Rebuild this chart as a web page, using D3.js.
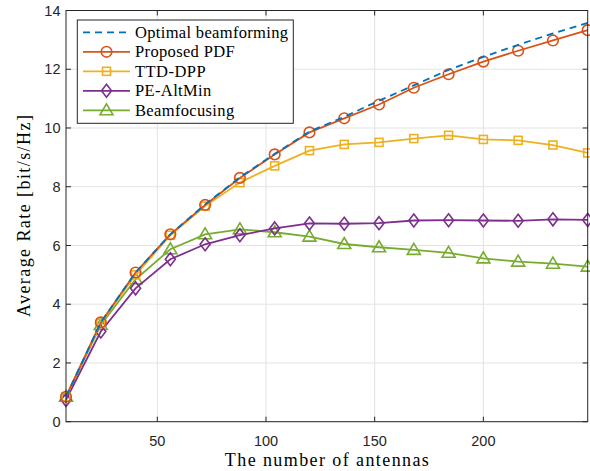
<!DOCTYPE html>
<html><head><meta charset="utf-8">
<script src="https://cdn.jsdelivr.net/npm/d3@7"></script>
<style>body{margin:0;background:#fff;} svg{display:block;}</style>
</head><body>
<svg id="chart" width="590" height="471"></svg>
<script>
const antennas = [8,24,40,56,72,88,104,120,136,152,168,184,200,216,232,248];
const optimal  = [0.85,3.38,5.08,6.38,7.40,8.32,9.12,9.88,10.38,10.93,11.45,11.98,12.42,12.83,13.22,13.58];
const proposed = [0.85,3.38,5.08,6.38,7.38,8.30,9.10,9.85,10.33,10.80,11.37,11.83,12.26,12.63,12.98,13.33];
const ttd      = [0.85,3.35,5.00,6.35,7.34,8.14,8.71,9.23,9.44,9.51,9.64,9.75,9.61,9.58,9.42,9.15];
const pe       = [0.74,3.07,4.54,5.53,6.04,6.35,6.58,6.75,6.74,6.76,6.85,6.86,6.85,6.84,6.89,6.87];
const focus    = [0.85,3.29,4.85,5.87,6.38,6.55,6.45,6.30,6.05,5.94,5.85,5.75,5.56,5.45,5.38,5.28];
const seriesNames = ["Optimal beamforming","Proposed PDF","TTD-DPP","PE-AltMin","Beamfocusing"];
const xTicks = [50,100,150,200];
const yTicks = [0,2,4,6,8,10,12,14];
const xLabel = "The number of antennas";
const yLabel = "Average Rate [bit/s/Hz]";

const series = [
  {name:seriesNames[0], values:optimal,  color:"#0072BD", marker:"none", dash:"7,5"},
  {name:seriesNames[1], values:proposed, color:"#D95319", marker:"circle"},
  {name:seriesNames[2], values:ttd,      color:"#EDB120", marker:"square"},
  {name:seriesNames[3], values:pe,       color:"#7E2F8E", marker:"diamond"},
  {name:seriesNames[4], values:focus,    color:"#77AC30", marker:"triangle"}
];
const drawOrder = [4,3,2,1,0];

const svg = d3.select("#chart");
const L=66, R=587.7, T=10.5, B=421.7;
const x = d3.scaleLinear().domain([8,248]).range([L,R]);
const y = d3.scaleLinear().domain([0,14]).range([B,T]);
const axisColor = "#262626";
const serif = "Liberation Serif, DejaVu Serif, serif";
const sans = "Liberation Sans, Arial, sans-serif";

// grid
const g = svg.append("g");
g.selectAll(".gx").data(xTicks).enter().append("line")
  .attr("x1",d=>x(d)).attr("x2",d=>x(d)).attr("y1",T).attr("y2",B)
  .attr("stroke","#e3e3e3").attr("stroke-width",1);
g.selectAll(".gy").data(yTicks).enter().append("line")
  .attr("y1",d=>y(d)).attr("y2",d=>y(d)).attr("x1",L).attr("x2",R)
  .attr("stroke","#e3e3e3").attr("stroke-width",1);

function drawMarker(sel,type,color,px,py){
  const common = m=>m.attr("fill","none").attr("stroke",color).attr("stroke-width",1.6);
  if(type==="circle") common(sel.append("circle").attr("cx",px).attr("cy",py).attr("r",5.3));
  else if(type==="square") common(sel.append("rect").attr("x",px-4).attr("y",py-4).attr("width",8).attr("height",8));
  else if(type==="diamond") common(sel.append("path").attr("d",`M${px},${py-6.5}L${px+5},${py}L${px},${py+6.5}L${px-5},${py}Z`));
  else if(type==="triangle") common(sel.append("path").attr("d",`M${px},${py-6.5}L${px+6.5},${py+4.5}L${px-6.5},${py+4.5}Z`));
}

const line = d3.line().x((d,i)=>x(antennas[i])).y(d=>y(d));
const plot = svg.append("g");
drawOrder.forEach(si=>{
  const s = series[si];
  const sg = plot.append("g");
  sg.append("path").attr("d",line(s.values)).attr("fill","none")
    .attr("stroke",s.color).attr("stroke-width",1.8)
    .attr("stroke-dasharray",s.dash||null);
  s.values.forEach((v,i)=>drawMarker(sg,s.marker,s.color,x(antennas[i]),y(v)));
});

// axes box
const ax = svg.append("g");
ax.append("rect").attr("x",L).attr("y",T).attr("width",R-L).attr("height",B-T)
  .attr("fill","none").attr("stroke",axisColor).attr("stroke-width",1);
const tl=5;
xTicks.forEach(t=>{
  ax.append("line").attr("x1",x(t)).attr("x2",x(t)).attr("y1",B).attr("y2",B-tl).attr("stroke",axisColor);
  ax.append("line").attr("x1",x(t)).attr("x2",x(t)).attr("y1",T).attr("y2",T+tl).attr("stroke",axisColor);
  ax.append("text").attr("x",x(t)).attr("y",B+24.5).attr("text-anchor","middle")
    .attr("font-family",sans).attr("font-size",14.5).attr("fill",axisColor).text(t);
});
yTicks.forEach(t=>{
  ax.append("line").attr("y1",y(t)).attr("y2",y(t)).attr("x1",L).attr("x2",L+tl).attr("stroke",axisColor);
  ax.append("line").attr("y1",y(t)).attr("y2",y(t)).attr("x1",R).attr("x2",R-tl).attr("stroke",axisColor);
  ax.append("text").attr("x",L-5.5).attr("y",y(t)+5.2).attr("text-anchor","end")
    .attr("font-family",sans).attr("font-size",14.5).attr("fill",axisColor).text(t);
});

const xl = svg.append("text").attr("x",(L+R)/2).attr("y",466).attr("text-anchor","middle")
  .attr("font-family",serif).attr("font-size",18).attr("fill","#000")
  .attr("textLength",204).attr("lengthAdjust","spacing").text(xLabel);
const yl = svg.append("text").attr("transform",`translate(30,${(T+B)/2}) rotate(-90)`).attr("text-anchor","middle")
  .attr("font-family",serif).attr("font-size",18).attr("fill","#000")
  .attr("textLength",202).attr("lengthAdjust","spacing").text(yLabel);

// legend
const lg = svg.append("g");
lg.append("rect").attr("x",77.3).attr("y",20).attr("width",216).attr("height",103.3)
  .attr("fill","#fff").attr("stroke",axisColor).attr("stroke-width",1);
let factor = null;
series.forEach((s,i)=>{
  const ly = 32.3 + i*19.5;
  lg.append("line").attr("x1",83).attr("x2",130).attr("y1",ly).attr("y2",ly)
    .attr("stroke",s.color).attr("stroke-width",1.8).attr("stroke-dasharray",s.dash||null);
  if(s.marker!=="none") drawMarker(lg,s.marker,s.color,106.5,ly);
  const t = lg.append("text").attr("x",135).attr("y",ly+5.5).attr("font-family",serif)
    .attr("font-size",16.5).attr("fill","#000").text(s.name);
  const w = t.node().getComputedTextLength();
  if(factor===null) factor = 153/w;
  t.attr("textLength", w*factor).attr("lengthAdjust","spacing");
});
</script>
</body></html>
